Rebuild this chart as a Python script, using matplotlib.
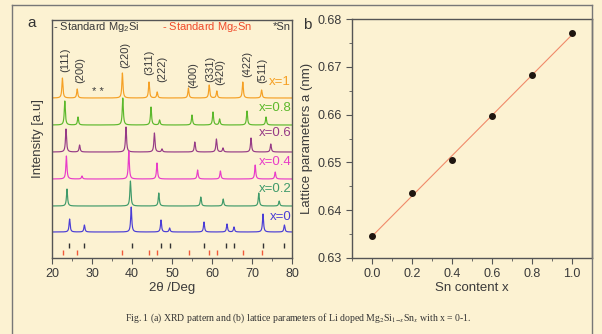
import numpy as np
import matplotlib.pyplot as plt
from matplotlib.ticker import MultipleLocator
from matplotlib.lines import Line2D

plt.rcParams['font.family'] = ['Liberation Sans', 'DejaVu Sans']
plt.rcParams['mathtext.fontset'] = 'custom'
plt.rcParams['mathtext.rm'] = 'Liberation Sans'
plt.rcParams['mathtext.it'] = 'Liberation Sans:italic'

# ---- panel a: XRD peaks (2theta, height in px) ----
labels = ['x=1', 'x=0.8', 'x=0.6', 'x=0.4', 'x=0.2', 'x=0']
colors = ['#f5a024', '#5cb82c', '#963b86', '#e83cc8', '#3f9a6a', '#4a3dd6']
offsets = [160, 133, 106, 79, 52, 26]
label_y = [176, 150, 125, 96, 69, 41]

pos_10 = [22.6, 26.3, 37.6, 44.25, 46.3, 54.1, 59.3, 61.2, 67.7, 72.4]
hgt_10 = [20, 9, 25, 16, 6, 10, 13, 7, 16, 8]
pos_08 = [23.2, 26.5, 37.7, 44.75, 46.9, 55.0, 60.25, 61.9, 68.75, 73.5]
hgt_08 = [24, 8, 27, 18, 5, 10, 13, 6, 14, 8]
pos_06 = [23.5, 26.9, 38.5, 45.6, 47.5, 55.7, 61.1, 62.75, 69.75, 74.7]
hgt_06 = [23, 7, 25, 19, 3, 10, 13, 4, 14, 8]
pos_04 = [23.6, 27.5, 39.2, 46.25, 56.4, 62.1, 70.8, 75.8]
hgt_04 = [23, 3, 28, 16, 9, 8, 14, 7]
pos_02 = [23.75, 39.6, 46.7, 57.2, 62.8, 71.7, 76.8]
hgt_02 = [17, 25, 13, 9, 7, 13, 5]
pos_00 = [24.4, 28.1, 39.8, 47.25, 49.4, 58.0, 63.75, 65.5, 72.75, 78.1]
hgt_00 = [13, 7, 25, 12, 4, 10, 8, 5, 18, 7]
peaks = [(pos_10, hgt_10), (pos_08, hgt_08), (pos_06, hgt_06),
         (pos_04, hgt_04), (pos_02, hgt_02), (pos_00, hgt_00)]

std_si = [24.2, 28.1, 40.0, 47.25, 49.6, 57.9, 63.6, 65.5, 72.75, 78.1]
std_sn = [22.75, 26.3, 37.5, 44.3, 46.3, 54.2, 59.3, 61.2, 67.75, 72.5]

hkl = ['(111)', '(200)', '(220)', '(311)', '(222)', '(400)', '(331)', '(420)', '(422)', '(511)']
hkl_x = [23.25, 27.0, 38.25, 44.3, 47.5, 55.2, 59.5, 62.0, 68.7, 72.5]
hkl_y = [186, 175, 190, 183, 176, 170, 176, 173, 181, 175]

# ---- panel b: lattice parameter ----
sn_x = [0.0, 0.2, 0.4, 0.6, 0.8, 1.0]
lat_a = [0.6345, 0.6437, 0.6506, 0.6597, 0.6682, 0.6770]

W, H = 602, 334
bg = '#fcf2d2'
fig = plt.figure(figsize=(W / 100, H / 100), dpi=100, facecolor=bg)

# outer frame
for xs, ys in [([12, 12], [0, 329]), ([12, 592], [329, 329]), ([592, 592], [0, 329])]:
    fig.add_artist(Line2D([x / W for x in xs], [y / H for y in ys], color='#777777', lw=1))

spine_c = '#555555'
txt_c = '#3a3a3a'


def style(ax):
    ax.set_facecolor(bg)
    for s in ax.spines.values():
        s.set_color(spine_c)
        s.set_linewidth(1)
    ax.tick_params(which='both', direction='out', colors=spine_c, labelcolor=txt_c,
                   labelsize=9, top=False, right=False)
    ax.tick_params(which='major', length=4)
    ax.tick_params(which='minor', length=2)


# panel a
ax = fig.add_axes([52 / W, 76 / H, 240 / W, 238 / H])
style(ax)
tt = np.linspace(20, 80, 4000)
w = 0.16
for (p, h), off, c, lab, ly in zip(peaks, offsets, colors, labels, label_y):
    y = np.full_like(tt, float(off))
    for pi, hi in zip(p, h):
        y += hi * w ** 2 / ((tt - pi) ** 2 + w ** 2)
    ax.plot(tt, y, color=c, lw=0.85)
    ax.text(79.8, ly, lab, color=c, fontsize=9.5, ha='right', va='center')

ax.vlines(std_si, 10, 15, color='#333333', lw=1)
ax.vlines(std_sn, 3, 8, color='#f05a3a', lw=1)
for s, xx, yy in zip(hkl, hkl_x, hkl_y):
    ax.text(xx, yy, s, rotation=90, fontsize=8, ha='center', va='bottom', color=txt_c)
ax.text(31.4, 166, '* *', fontsize=8, ha='center', va='center', color=txt_c)

ax.text(20.3, 231, r'- Standard Mg$_\mathregular{2}$Si', fontsize=8, color=txt_c, va='center')
ax.text(47.5, 231, r'- Standard Mg$_\mathregular{2}$Sn', fontsize=8, color='#f04a2a', va='center')
ax.text(79.6, 231, '*Sn', fontsize=8, color=txt_c, va='center', ha='right')

ax.set_xlim(20, 80)
ax.set_ylim(0, 238)
ax.xaxis.set_major_locator(MultipleLocator(10))
ax.xaxis.set_minor_locator(MultipleLocator(5))
ax.set_yticks([])
ax.set_xlabel('2θ /Deg', fontsize=9.5, color=txt_c, labelpad=1)
ax.set_ylabel('Intensity [a.u]', fontsize=9.5, color=txt_c, labelpad=6)

# panel b
bx = fig.add_axes([352 / W, 76 / H, 240 / W, 239 / H])
style(bx)
k, b0 = np.polyfit(sn_x, lat_a, 1)
fx = np.array([sn_x[0], sn_x[-1]])
bx.plot(fx, k * fx + b0, color='#f08a6a', lw=0.8)
bx.plot(sn_x, lat_a, 'o', color='#1e1610', ms=4)
bx.set_xlim(-0.1, 1.1)
bx.set_ylim(0.63, 0.68)
bx.xaxis.set_major_locator(MultipleLocator(0.2))
bx.xaxis.set_minor_locator(MultipleLocator(0.1))
bx.yaxis.set_major_locator(MultipleLocator(0.01))
bx.yaxis.set_minor_locator(MultipleLocator(0.005))
bx.xaxis.set_major_formatter(lambda v, pos: f'{v:.1f}')
bx.yaxis.set_major_formatter(lambda v, pos: f'{v:.2f}')
bx.set_xlabel('Sn content x', fontsize=9.5, color=txt_c, labelpad=1)
bx.set_ylabel('Lattice parameters a (nm)', fontsize=9.5, color=txt_c, labelpad=3)

fig.text(27 / W, 1 - 23 / H, 'a', fontsize=11, color='#333333', ha='left', va='center')
fig.text(303 / W, 1 - 25 / H, 'b', fontsize=11, color='#333333', ha='left', va='center')

fig.text(298 / W, 1 - 318 / H,
         r'Fig. 1 (a) XRD pattern and (b) lattice parameters of Li doped Mg$_2$Si$_{1\mathrm{-}x}$Sn$_x$ with x = 0-1.',
         fontsize=7, family='Liberation Serif', math_fontfamily='stix', color='#333333',
         ha='center', va='center')

fig.savefig('out.png', dpi=100, facecolor=bg)
